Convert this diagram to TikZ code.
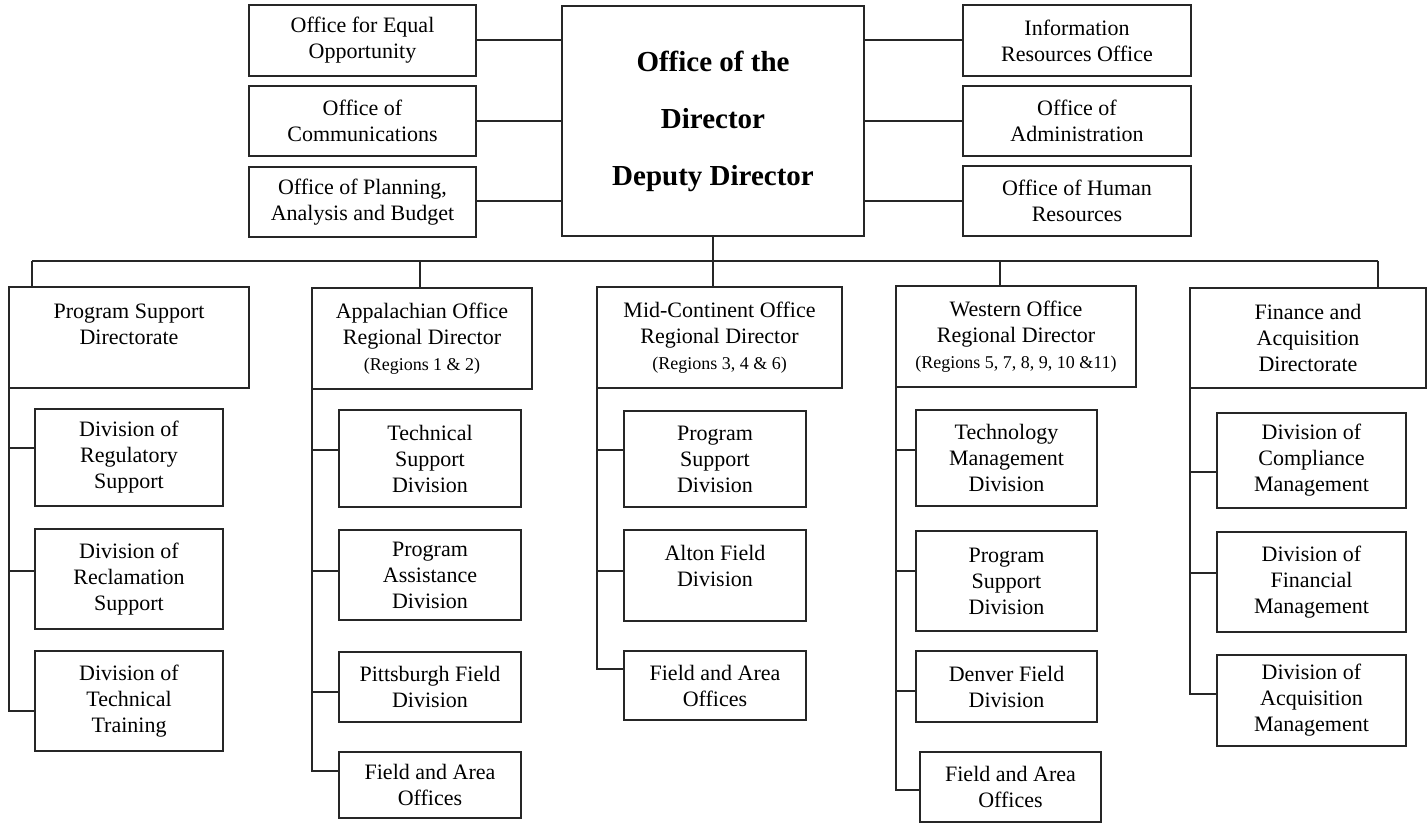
\documentclass[tikz,border=0pt]{standalone}
\usepackage{fontspec}
\setmainfont{Liberation Serif}
\begin{document}
\begin{tikzpicture}[x=1pt,y=-1pt,
  box/.style={draw=black!85,line width=1.2pt,inner sep=0pt,outer sep=0pt,align=center,
    font=\fontsize{22}{26}\selectfont},
  bigbox/.style={box,font=\bfseries\fontsize{29}{57}\selectfont},
  link/.style={draw=black!85,line width=1.1pt}]
\newcommand{\bx}[7][box]{\node[#1,minimum width={#5pt-#3pt},minimum height={#6pt-#4pt}] (#2) at ({(#3+#5)/2},{(#4+#6)/2}) {#7};}
\newcommand{\rg}[1]{{\fontsize{18}{22}\selectfont #1}}
\useasboundingbox (0,0) rectangle (1427,824);
% top row
\bx{L1}{249}{5}{476}{76}{Office for Equal\\Opportunity}
\bx{L2}{249}{86}{476}{156}{Office of\\Communications}
\bx{L3}{249}{167}{476}{237}{Office of Planning,\\Analysis and Budget}
\bx[bigbox]{C}{562}{6}{864}{236}{Office of the\\Director\\Deputy Director}
\bx{R1}{963}{5}{1191}{76}{Information\\Resources Office}
\bx{R2}{963}{86}{1191}{156}{Office of\\Administration}
\bx{R3}{963}{166}{1191}{236}{Office of Human\\Resources}
\draw[link] (L1.east |- 0,40) -- (C.west |- 0,40);
\draw[link] (L2.east |- 0,121) -- (C.west |- 0,121);
\draw[link] (L3.east |- 0,201) -- (C.west |- 0,201);
\draw[link] (R1.west |- 0,40) -- (C.east |- 0,40);
\draw[link] (R2.west |- 0,121) -- (C.east |- 0,121);
\draw[link] (R3.west |- 0,201) -- (C.east |- 0,201);
% column headers
\bx{H1}{9}{287}{249}{388}{Program Support\\Directorate\\\mbox{}}
\bx{H2}{312}{288}{532}{389}{Appalachian Office\\Regional Director\\\rg{(Regions 1 \& 2)}}
\bx{H3}{597}{287}{842}{388}{Mid-Continent Office\\Regional Director\\\rg{(Regions 3, 4 \& 6)}}
\bx{H4}{896}{286}{1136}{387}{Western Office\\Regional Director\\\rg{(Regions 5, 7, 8, 9, 10 \&11)}}
\bx{H5}{1190}{288}{1426}{388}{Finance and\\Acquisition\\Directorate}
% bus
\coordinate (bus1) at (32,261);
\coordinate (bus2) at (420,261);
\coordinate (bus4) at (1000,261);
\coordinate (bus5) at (1378,261);
\draw[link] (C.south) -- (H3.north -| C.south);
\draw[link] (bus1) -- (bus5);
\draw[link] (bus1) -- (bus1 |- H1.north);
\draw[link] (bus2) -- (bus2 |- H2.north);
\draw[link] (bus4) -- (bus4 |- H4.north);
\draw[link] (bus5) -- (bus5 |- H5.north);
% column 1
\bx{D11}{35}{409}{223}{506}{Division of\\Regulatory\\Support}
\bx{D12}{35}{529}{223}{629}{Division of\\Reclamation\\Support}
\bx{D13}{35}{651}{223}{751}{Division of\\Technical\\Training}
\draw[link] (H1.south west) |- (D13.west |- 0,711);
\draw[link] (H1.south west |- 0,448) -- (D11.west |- 0,448);
\draw[link] (H1.south west |- 0,571) -- (D12.west |- 0,571);
% column 2
\bx{D21}{339}{410}{521}{507}{Technical\\Support\\Division}
\bx{D22}{339}{530}{521}{620}{Program\\Assistance\\Division}
\bx{D23}{339}{652}{521}{722}{Pittsburgh Field\\Division}
\bx{D24}{339}{752}{521}{818}{Field and Area\\Offices}
\draw[link] (H2.south west) |- (D24.west |- 0,771);
\draw[link] (H2.south west |- 0,450) -- (D21.west |- 0,450);
\draw[link] (H2.south west |- 0,571) -- (D22.west |- 0,571);
\draw[link] (H2.south west |- 0,692) -- (D23.west |- 0,692);
% column 3
\bx{D31}{624}{411}{806}{507}{Program\\Support\\Division}
\bx{D32}{624}{530}{806}{621}{Alton Field\\Division\\[-6pt]\mbox{}}
\bx{D33}{624}{651}{806}{720}{Field and Area\\Offices}
\draw[link] (H3.south west) |- (D33.west |- 0,669);
\draw[link] (H3.south west |- 0,450) -- (D31.west |- 0,450);
\draw[link] (H3.south west |- 0,571) -- (D32.west |- 0,571);
% column 4
\bx{D41}{916}{410}{1097}{506}{Technology\\Management\\Division}
\bx{D42}{916}{531}{1097}{631}{Program\\Support\\Division}
\bx{D43}{916}{651}{1097}{722}{Denver Field\\Division}
\bx{D44}{920}{752}{1101}{822}{Field and Area\\Offices}
\draw[link] (H4.south west) |- (D44.west |- 0,790);
\draw[link] (H4.south west |- 0,450) -- (D41.west |- 0,450);
\draw[link] (H4.south west |- 0,571) -- (D42.west |- 0,571);
\draw[link] (H4.south west |- 0,691) -- (D43.west |- 0,691);
% column 5
\bx{D51}{1217}{413}{1406}{508}{Division of\\Compliance\\Management}
\bx{D52}{1217}{532}{1406}{632}{Division of\\Financial\\Management}
\bx{D53}{1217}{655}{1406}{746}{Division of\\Acquisition\\Management}
\draw[link] (H5.south west) |- (D53.west |- 0,694);
\draw[link] (H5.south west |- 0,472) -- (D51.west |- 0,472);
\draw[link] (H5.south west |- 0,573) -- (D52.west |- 0,573);
\end{tikzpicture}
\end{document}
